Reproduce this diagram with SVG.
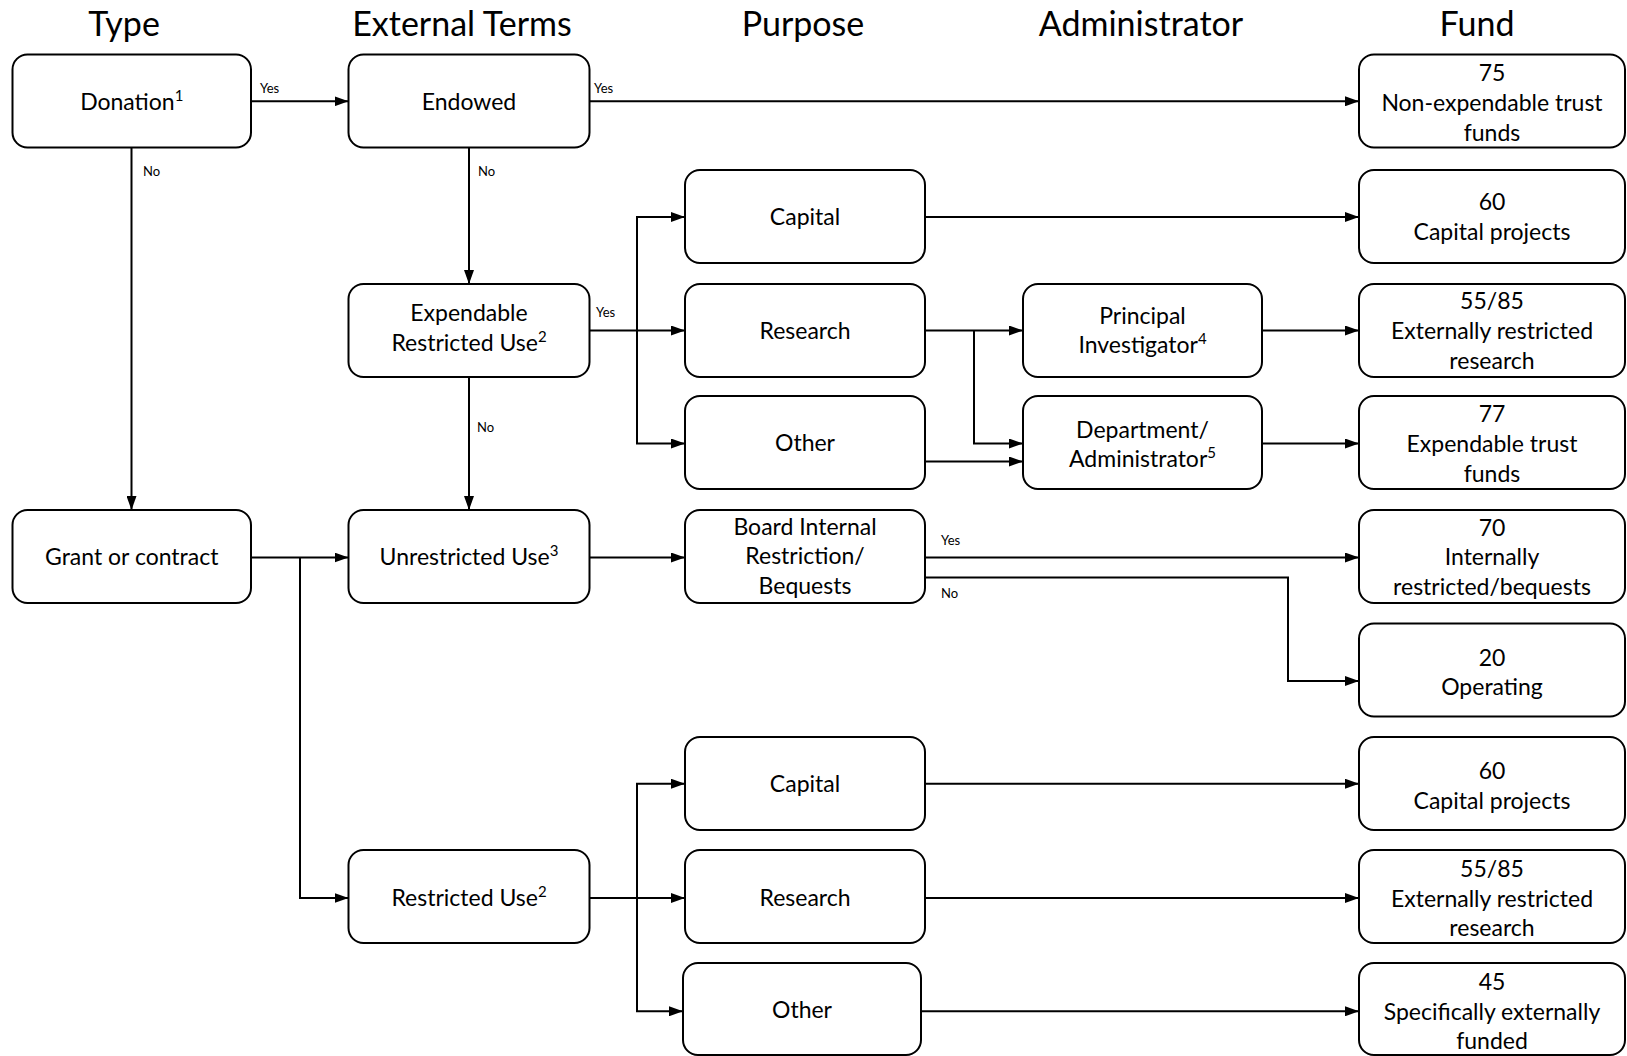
<svg xmlns="http://www.w3.org/2000/svg" width="1627" height="1056" viewBox="0 0 1627 1056">
<style>
.box{fill:#fff;stroke:#000;stroke-width:2}
.t{font-family:Lato,"Liberation Sans",sans-serif;font-size:23px;fill:#000;text-anchor:middle}
.h{font-family:Lato,"Liberation Sans",sans-serif;font-size:34px;fill:#000;text-anchor:middle}
.s{font-family:Lato,"Liberation Sans",sans-serif;font-size:13px;fill:#000}
.c{fill:none;stroke:#000;stroke-width:2}
.sup{font-size:15px}
</style>
<defs>
<marker id="arr" markerUnits="userSpaceOnUse" markerWidth="14" markerHeight="10" refX="14" refY="5" orient="auto">
<path d="M0,0 L14,5 L0,10 z" fill="#000"/>
</marker>
</defs>
<rect width="1627" height="1056" fill="#fff"/>
<g id="headers">
<text class="h" x="124" y="36">Type</text>
<text class="h" x="462" y="36">External Terms</text>
<text class="h" x="803" y="36">Purpose</text>
<text class="h" x="1141" y="36">Administrator</text>
<text class="h" x="1477" y="36">Fund</text>
</g>
<g id="connectors">
<path class="c" d="M251,101.3 H348.5" marker-end="url(#arr)"/>
<path class="c" d="M589.5,101.3 H1359" marker-end="url(#arr)"/>
<path class="c" d="M131.5,147.5 V510" marker-end="url(#arr)"/>
<path class="c" d="M469,147.5 V284" marker-end="url(#arr)"/>
<path class="c" d="M469,377 V510" marker-end="url(#arr)"/>
<path class="c" d="M589.5,330.5 H685" marker-end="url(#arr)"/>
<path class="c" d="M637,330.5 V217 H685" marker-end="url(#arr)"/>
<path class="c" d="M637,330.5 V443.5 H685" marker-end="url(#arr)"/>
<path class="c" d="M925,217 H1359" marker-end="url(#arr)"/>
<path class="c" d="M925,330.5 H1023" marker-end="url(#arr)"/>
<path class="c" d="M974,330.5 V443.5 H1023" marker-end="url(#arr)"/>
<path class="c" d="M925,461.5 H1023" marker-end="url(#arr)"/>
<path class="c" d="M1262,330.5 H1359" marker-end="url(#arr)"/>
<path class="c" d="M1262,443.5 H1359" marker-end="url(#arr)"/>
<path class="c" d="M251,557.5 H348.5" marker-end="url(#arr)"/>
<path class="c" d="M300,557.5 V898 H348.5" marker-end="url(#arr)"/>
<path class="c" d="M589.5,557.5 H685" marker-end="url(#arr)"/>
<path class="c" d="M925,557.5 H1359" marker-end="url(#arr)"/>
<path class="c" d="M925,577.5 H1288 V681 H1359" marker-end="url(#arr)"/>
<path class="c" d="M589.5,898 H685" marker-end="url(#arr)"/>
<path class="c" d="M637,898 V783.7 H685" marker-end="url(#arr)"/>
<path class="c" d="M637,898 V1011.3 H683" marker-end="url(#arr)"/>
<path class="c" d="M925,783.7 H1359" marker-end="url(#arr)"/>
<path class="c" d="M925,898 H1359" marker-end="url(#arr)"/>
<path class="c" d="M921,1011.3 H1359" marker-end="url(#arr)"/>
<text class="s" x="260" y="93">Yes</text>
<text class="s" x="594" y="93">Yes</text>
<text class="s" x="143" y="176">No</text>
<text class="s" x="478" y="176">No</text>
<text class="s" x="596" y="317">Yes</text>
<text class="s" x="477" y="432">No</text>
<text class="s" x="941" y="545">Yes</text>
<text class="s" x="941" y="598">No</text>
</g>
<g id="donation"><rect class="box" x="12.5" y="54.5" width="238.5" height="93" rx="15"/><text class="t" x="131.75" y="109.5">Donation<tspan class="sup" dy="-9">1</tspan></text></g>
<g id="endowed"><rect class="box" x="348.5" y="54.5" width="241" height="93" rx="15"/><text class="t" x="469" y="109.5">Endowed</text></g>
<g id="fund75"><rect class="box" x="1359" y="54.5" width="266" height="93" rx="15"/><text class="t" x="1492" y="81">75</text><text class="t" x="1492" y="111">Non-expendable trust</text><text class="t" x="1492" y="140.5">funds</text></g>
<g id="capital1"><rect class="box" x="685" y="170" width="240" height="93" rx="15"/><text class="t" x="805" y="225">Capital</text></g>
<g id="fund60a"><rect class="box" x="1359" y="170" width="266" height="93" rx="15"/><text class="t" x="1492" y="210">60</text><text class="t" x="1492" y="239.5">Capital projects</text></g>
<g id="expendable"><rect class="box" x="348.5" y="284" width="241" height="93" rx="15"/><text class="t" x="469" y="321">Expendable</text><text class="t" x="469" y="351"><tspan>Restricted Use</tspan><tspan class="sup" dy="-9">2</tspan></text></g>
<g id="research1"><rect class="box" x="685" y="284" width="240" height="93" rx="15"/><text class="t" x="805" y="339">Research</text></g>
<g id="principal"><rect class="box" x="1023" y="284" width="239" height="93" rx="15"/><text class="t" x="1142.5" y="324">Principal</text><text class="t" x="1142.5" y="353">Investigator<tspan class="sup" dy="-9">4</tspan></text></g>
<g id="fund5585a"><rect class="box" x="1359" y="284" width="266" height="93" rx="15"/><text class="t" x="1492" y="309">55/85</text><text class="t" x="1492" y="339">Externally restricted</text><text class="t" x="1492" y="368.5">research</text></g>
<g id="other1"><rect class="box" x="685" y="396" width="240" height="93" rx="15"/><text class="t" x="805" y="451">Other</text></g>
<g id="department"><rect class="box" x="1023" y="396" width="239" height="93" rx="15"/><text class="t" x="1142.5" y="437.5">Department/</text><text class="t" x="1142.5" y="467">Administrator<tspan class="sup" dy="-9">5</tspan></text></g>
<g id="fund77"><rect class="box" x="1359" y="396" width="266" height="93" rx="15"/><text class="t" x="1492" y="422">77</text><text class="t" x="1492" y="452">Expendable trust</text><text class="t" x="1492" y="481.5">funds</text></g>
<g id="grant"><rect class="box" x="12.5" y="510" width="238.5" height="93" rx="15"/><text class="t" x="131.75" y="565">Grant or contract</text></g>
<g id="unrestricted"><rect class="box" x="348.5" y="510" width="241" height="93" rx="15"/><text class="t" x="469" y="565">Unrestricted Use<tspan class="sup" dy="-9">3</tspan></text></g>
<g id="board"><rect class="box" x="685" y="510" width="240" height="93" rx="15"/><text class="t" x="805" y="534.5">Board Internal</text><text class="t" x="805" y="564">Restriction/</text><text class="t" x="805" y="594">Bequests</text></g>
<g id="fund70"><rect class="box" x="1359" y="510" width="266" height="93" rx="15"/><text class="t" x="1492" y="535.5">70</text><text class="t" x="1492" y="565">Internally</text><text class="t" x="1492" y="594.5">restricted/bequests</text></g>
<g id="fund20"><rect class="box" x="1359" y="623.5" width="266" height="93" rx="15"/><text class="t" x="1492" y="665.5">20</text><text class="t" x="1492" y="694.5">Operating</text></g>
<g id="capital2"><rect class="box" x="685" y="737" width="240" height="93" rx="15"/><text class="t" x="805" y="792">Capital</text></g>
<g id="fund60b"><rect class="box" x="1359" y="737" width="266" height="93" rx="15"/><text class="t" x="1492" y="779">60</text><text class="t" x="1492" y="808.5">Capital projects</text></g>
<g id="restricted"><rect class="box" x="348.5" y="850" width="241" height="93" rx="15"/><text class="t" x="469" y="905.5">Restricted Use<tspan class="sup" dy="-9">2</tspan></text></g>
<g id="research2"><rect class="box" x="685" y="850" width="240" height="93" rx="15"/><text class="t" x="805" y="905.5">Research</text></g>
<g id="fund5585b"><rect class="box" x="1359" y="850" width="266" height="93" rx="15"/><text class="t" x="1492" y="876.5">55/85</text><text class="t" x="1492" y="906.5">Externally restricted</text><text class="t" x="1492" y="936">research</text></g>
<g id="other2"><rect class="box" x="683" y="963" width="238" height="92" rx="15"/><text class="t" x="802" y="1018">Other</text></g>
<g id="fund45"><rect class="box" x="1359" y="963" width="266" height="92" rx="15"/><text class="t" x="1492" y="989.5">45</text><text class="t" x="1492" y="1020">Specifically externally</text><text class="t" x="1492" y="1048.5">funded</text></g>
</svg>
